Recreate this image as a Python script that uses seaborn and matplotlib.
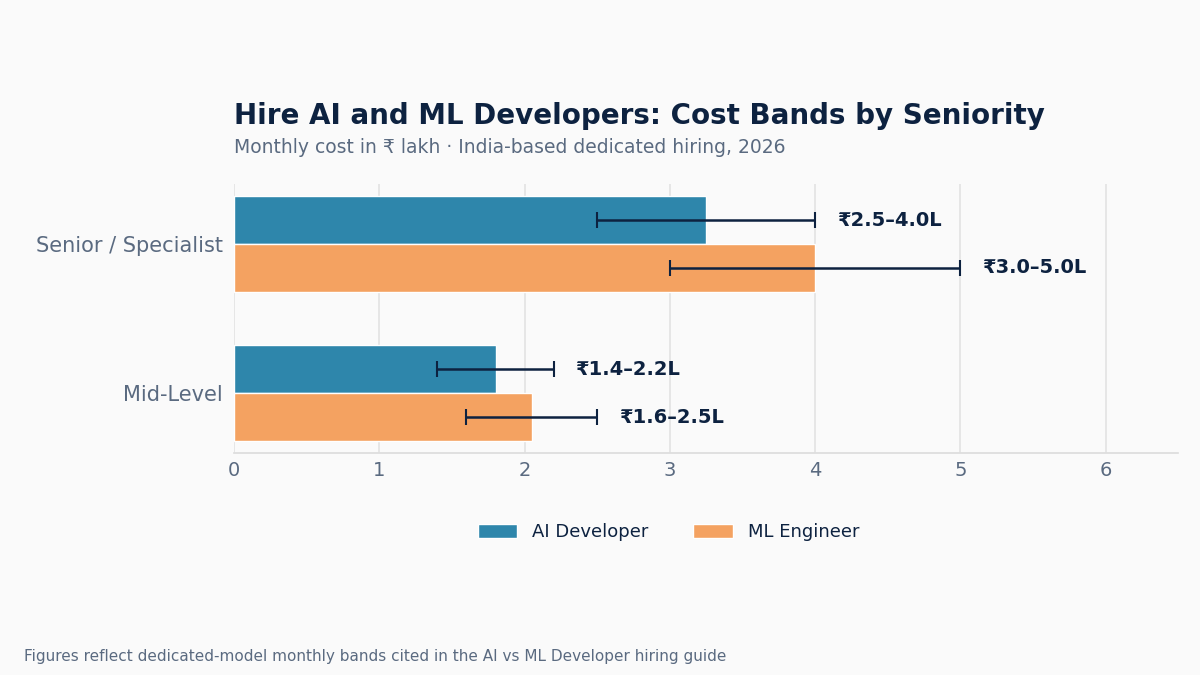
import matplotlib
matplotlib.use("Agg")
import matplotlib.pyplot as plt
import seaborn as sns
import pandas as pd

levels = ["Senior / Specialist", "Mid-Level"]
roles = ["AI Developer", "ML Engineer"]
ai_mid = [3.25, 1.8]
ml_mid = [4.0, 2.05]
ai_low = [2.5, 1.4]
ai_high = [4.0, 2.2]
ml_low = [3.0, 1.6]
ml_high = [5.0, 2.5]
ai_labels = ["₹2.5–4.0L", "₹1.4–2.2L"]
ml_labels = ["₹3.0–5.0L", "₹1.6–2.5L"]

df = pd.DataFrame({
    "level": levels * 2,
    "role": [roles[0]] * 2 + [roles[1]] * 2,
    "value": ai_mid + ml_mid,
    "low": ai_low + ml_low,
    "high": ai_high + ml_high,
    "label": ai_labels + ml_labels,
})

sns.set_theme(style="white")
plt.rcParams['font.family'] = ['DejaVu Sans']
bg = "#fafafa"
dark = "#0d2240"
gray = "#5a6a80"
colors = ["#2e86ab", "#f4a261"]

fig = plt.figure(figsize=(12, 6.75), dpi=100, facecolor=bg)
ax = fig.add_axes([0.195, 0.329, 0.787, 0.398], facecolor=bg)
sns.barplot(data=df, y="level", x="value", hue="role", order=levels, hue_order=roles,
            palette=colors, width=0.64, orient="h", ax=ax, saturation=1, legend=True)

for i, role in enumerate(roles):
    cont = ax.containers[i]
    sub = df[df.role == role].set_index("level").loc[levels]
    for patch, (_, r) in zip(cont.patches, sub.iterrows()):
        yc = patch.get_y() + patch.get_height() / 2
        ax.errorbar([(r.low + r.high) / 2], [yc], xerr=[[(r.high - r.low) / 2]],
                    fmt="none", ecolor=dark, elinewidth=1.8, capsize=6, capthick=1.5)
        ax.text(r.high + 0.15, yc, r.label, va="center", ha="left",
                fontsize=14, fontweight="bold", color=dark)

ax.set_xlim(0, 6.5)
ax.set_ylim(1.4, -0.4)
ax.set_xlabel("")
ax.set_ylabel("")
ax.xaxis.grid(True, color="#e3e3e3", linewidth=1.2)
ax.set_axisbelow(True)
for s in ["top", "right", "left"]:
    ax.spines[s].set_visible(False)
ax.spines["bottom"].set_color("#dddddd")
ax.tick_params(axis="y", labelsize=15, labelcolor=gray, length=0, pad=8)
ax.tick_params(axis="x", labelsize=14, labelcolor=gray, length=0, pad=6)

leg = ax.legend(loc="upper center", bbox_to_anchor=(0.46, -0.2), ncol=2, frameon=False,
                fontsize=13, handlelength=2.2, handleheight=0.8, columnspacing=2.5)
for t in leg.get_texts():
    t.set_color(dark)

fig.text(0.195, 0.828, "Hire AI and ML Developers: Cost Bands by Seniority",
         fontsize=20, fontweight="bold", color=dark, ha="left", va="center")
fig.text(0.195, 0.782, "Monthly cost in ₹ lakh · India-based dedicated hiring, 2026",
         fontsize=13.5, color=gray, ha="left", va="center")
fig.text(0.02, 0.028, "Figures reflect dedicated-model monthly bands cited in the AI vs ML Developer hiring guide",
         fontsize=11, color=gray, ha="left", va="center")

fig.savefig("out.png", dpi=100, facecolor=bg)
